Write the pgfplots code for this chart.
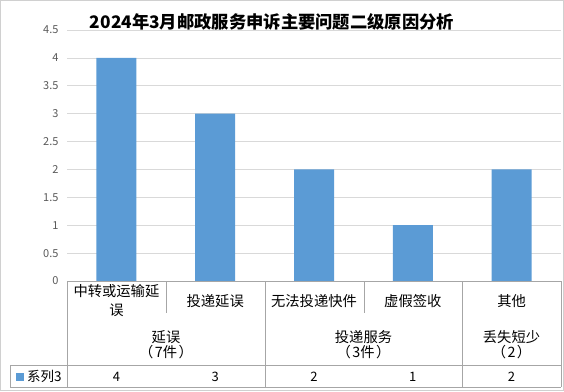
\documentclass[border=0pt]{standalone}
\usepackage{fontspec}
\setmainfont{Noto Sans CJK SC}
\usepackage{pgfplots}
\pgfplotsset{compat=1.18}
\usepackage{pgfplotstable}
\definecolor{barblue}{HTML}{5B9BD5}
\definecolor{gridc}{HTML}{D9D9D9}
\definecolor{tabc}{HTML}{A6A6A6}
\definecolor{ticktext}{HTML}{595959}
\definecolor{frame}{HTML}{D0D0D0}
\pgfplotstableread{
x y
0 4
1 3
2 2
3 1
4 2
}\data
\newcommand{\paren}[1]{\makebox[1em][c]{（}\hspace{0.1em}#1\hspace{0.1em}\makebox[1em][c]{）}}
\begin{document}
\begin{tikzpicture}[x=1pt,y=1pt]
\useasboundingbox (0,0) rectangle (564,391);
\draw[frame, line width=0.8pt] (0.5,0.5) rectangle (563.5,390.5);
\node[font=\fontsize{17.3}{20}\selectfont\bfseries] at (272,369) {2024年3月邮政服务申诉主要问题二级原因分析};
\begin{axis}[
  at={(67pt,110pt)}, anchor=south west,
  width=494pt, height=251pt, scale only axis,
  xmin=-0.5, xmax=4.5, ymin=0, ymax=4.5,
  ytick={0,0.5,1,1.5,2,2.5,3,3.5,4,4.5},
  xtick={0,1,2,3,4},
  xticklabels={中转或运输延\\误, 投递延误, 无法投递快件, 虚假签收, 其他},
  xticklabel style={anchor=center, yshift=-20pt, align=center, font=\fontsize{14.3}{19}\selectfont, text=black},
  ymajorgrids, grid style={gridc, line width=0.75pt},
  axis line style={draw=none},
  tick style={draw=none},
  yticklabel style={font=\fontsize{11}{13}\selectfont, text=ticktext, xshift=-5pt},
  /pgf/number format/assume math mode=true,
  clip=false,
]
\addplot[ybar, bar width=40pt, fill=barblue, draw=none] table[x=x,y=y]{\data};
\addplot[draw=none, mark=none, nodes near coords, point meta=explicit,
  every node near coord/.append style={anchor=center, font=\fontsize{13}{15}\selectfont, text=black}]
  table[x=x, y expr=-1.72, meta=y]{\data};
\end{axis}
% table grid
\begin{scope}[tabc, line width=0.8pt]
\draw (67,110) -- (561,110);
\draw (67,110) -- (67,4);
\draw (166,110) -- (166,78);
\draw (265,110) -- (265,4);
\draw (364,110) -- (364,78);
\draw (462,110) -- (462,4);
\draw (561,110) -- (561,4);
\draw (10,26) -- (561,26);
\draw (10,4) -- (561,4);
\draw (10,26) -- (10,4);
\end{scope}
\begin{scope}[font=\fontsize{14.3}{15}\selectfont]
\node at (166,54) {延误};
\node at (166,39) {\paren{7件}};
\node at (363.5,54) {投递服务};
\node at (363.5,39) {\paren{3件}};
\node at (511.5,54) {丢失短少};
\node at (511.5,39) {\paren{2}};
\end{scope}
\fill[barblue] (16,10.5) rectangle (24,18.5);
\node[anchor=west, inner sep=0pt, font=\fontsize{13.5}{15}\selectfont] at (27,14.5) {系列3};
\end{tikzpicture}
\end{document}
